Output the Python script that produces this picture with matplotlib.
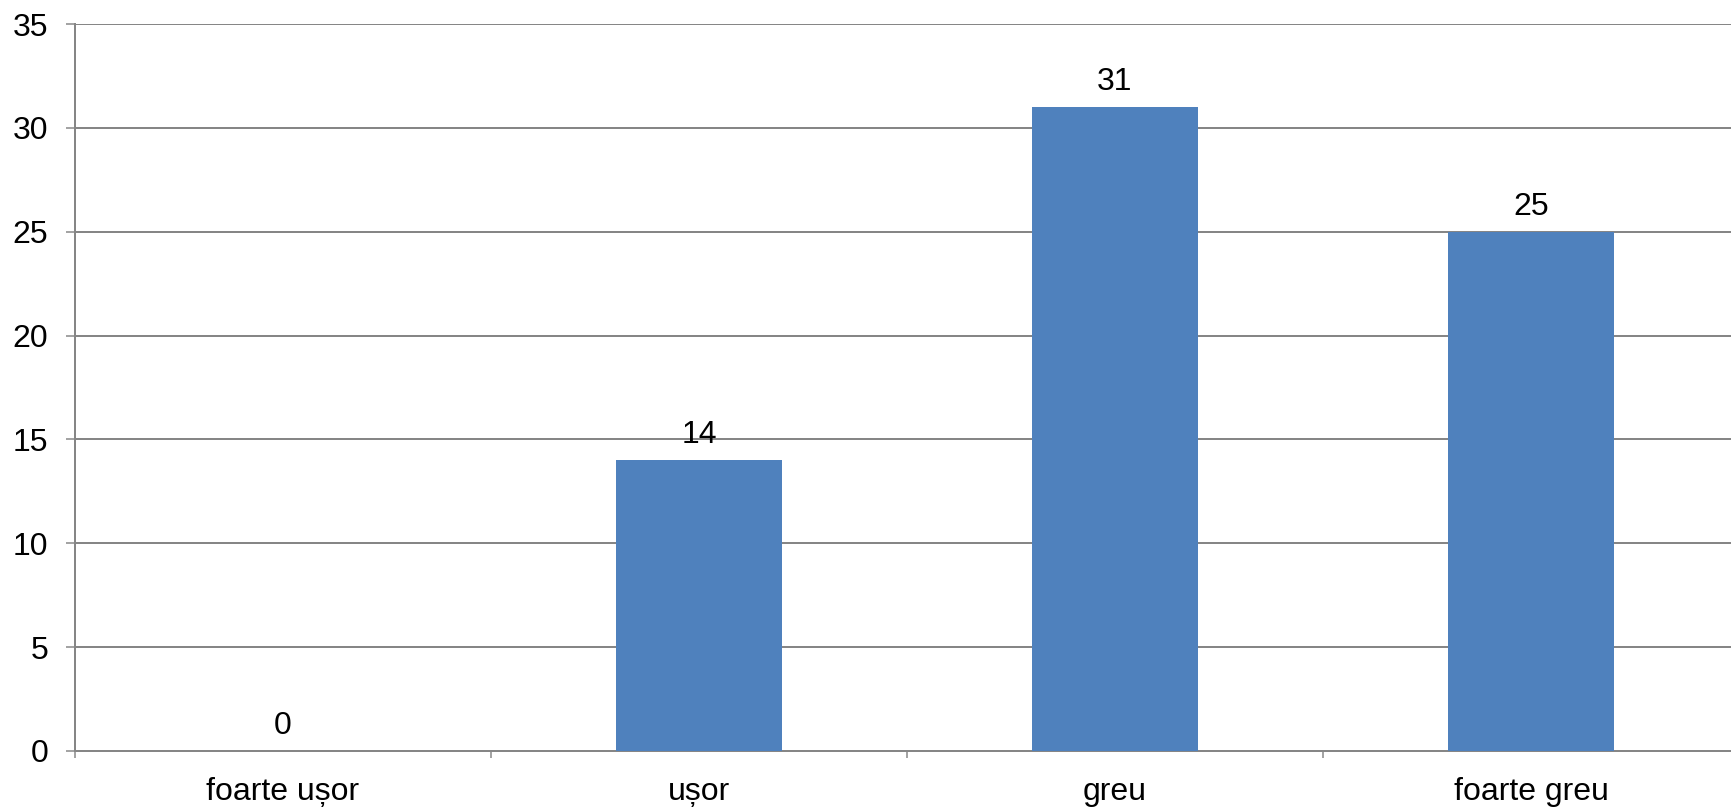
import matplotlib
matplotlib.use("Agg")
import matplotlib.pyplot as plt
import numpy as np

categories = ["foarte ușor", "ușor", "greu", "foarte greu"]
values = [0, 14, 31, 25]
yticks = [0, 5, 10, 15, 20, 25, 30, 35]

plt.rcParams['font.family'] = ['Liberation Sans', 'DejaVu Sans']

W, H = 1731, 808
DPI = 72
fig = plt.figure(figsize=(W/DPI, H/DPI), dpi=DPI)
left = 75 / W
bottom = (H - 751) / H
top = (H - 24) / H
width = (416 * 4) / W
ax = fig.add_axes([left, bottom, width, top - bottom])

FS = 32
x = np.arange(len(categories))
bars = ax.bar(x, values, width=0.4, color='#4F81BD', zorder=3)
ax.bar_label(bars, labels=[str(v) for v in values], padding=10, fontsize=FS, color='black')

ax.set_xlim(-0.5, len(categories) - 0.5)
ax.set_ylim(0, 35)
ax.set_yticks(yticks)
ax.set_yticklabels([str(t) for t in yticks], fontsize=FS)

ax.set_xticks(x)
ax.set_xticklabels(categories, fontsize=FS)
ax.set_xticks(np.arange(-0.5, len(categories), 1.0), minor=True)
ax.tick_params(axis='x', which='major', length=0, pad=26)
ax.tick_params(axis='x', which='minor', length=7, width=1.5, color='#868686')
ax.tick_params(axis='y', length=9, width=1.5, color='#868686', pad=18)

ax.grid(axis='y', color='#868686', linewidth=2, zorder=0)
for s in ['top', 'right']:
    ax.spines[s].set_visible(False)
ax.spines['left'].set_color('#868686')
ax.spines['left'].set_linewidth(2)
ax.spines['bottom'].set_color('#868686')
ax.spines['bottom'].set_linewidth(2)

fig.savefig("out.png", dpi=DPI)
